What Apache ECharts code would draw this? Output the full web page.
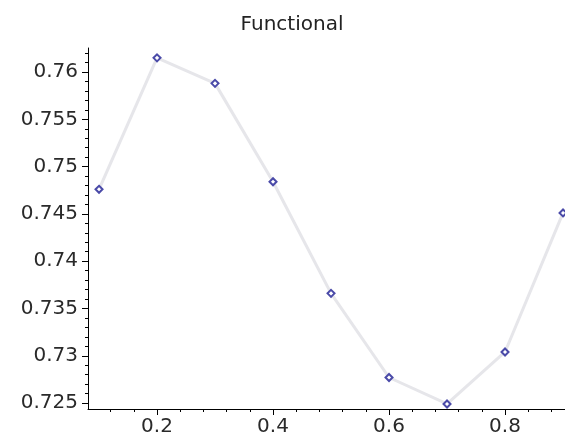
<!DOCTYPE html>
<html>
<head>
<meta charset="utf-8">
<script src="https://cdn.jsdelivr.net/npm/echarts@6/dist/echarts.min.js"></script>
<style>
html,body{margin:0;padding:0;background:#fff;}
#chart{width:565px;height:441px;}
</style>
</head>
<body>
<div id="chart"></div>
<script>
var titleText = "Functional";
var xValues = [0.1, 0.2, 0.3, 0.4, 0.5, 0.6, 0.7, 0.8, 0.9];
var yValues = [0.7476, 0.7615, 0.7588, 0.7484, 0.7366, 0.7277, 0.7249, 0.7304, 0.7451];
var xTickValues = [0.2, 0.4, 0.6, 0.8];
var xMinorTickValues = [0.12, 0.16, 0.24, 0.28, 0.32, 0.36, 0.44, 0.48, 0.52, 0.56, 0.64, 0.68, 0.72, 0.76, 0.84, 0.88];
var yTickValues = [0.725, 0.73, 0.735, 0.74, 0.745, 0.75, 0.755, 0.76];
var yMinorTickValues = [0.726, 0.727, 0.728, 0.729, 0.731, 0.732, 0.733, 0.734, 0.736, 0.737, 0.738, 0.739, 0.741, 0.742, 0.743, 0.744, 0.746, 0.747, 0.748, 0.749, 0.751, 0.752, 0.753, 0.754, 0.756, 0.757, 0.758, 0.759, 0.761, 0.762];

var xMin = 0.081, xMax = 0.9034;
var yMin = 0.72437, yMax = 0.76254;

var points = xValues.map(function (x, i) { return [x, yValues[i]]; });
var fontFam = "'DejaVu Sans', sans-serif";
function fmt(v) { return String(+(+v).toFixed(3)); }

var chart = echarts.init(document.getElementById('chart'), null, {renderer: 'canvas'});
chart.setOption({
  animation: false,
  backgroundColor: '#ffffff',
  title: {
    text: titleText,
    left: 287, top: 10, textAlign: 'center',
    textStyle: {fontFamily: fontFam, fontSize: 20, fontWeight: 'normal', color: '#222'}
  },
  grid: {left: 88, right: 0, top: 48, bottom: 32, containLabel: false},
  xAxis: [{
    type: 'value', min: xMin, max: xMax,
    axisLine: {show: true, onZero: false, lineStyle: {color: '#000', width: 1}},
    axisTick: {show: true, customValues: xTickValues, inside: false, length: 6, lineStyle: {color: '#000'}},
    axisLabel: {show: true, customValues: xTickValues, formatter: fmt, margin: 8,
      fontFamily: fontFam, fontSize: 20, color: '#2a2a2a'},
    splitLine: {show: false}
  }, {
    type: 'value', min: xMin, max: xMax, position: 'bottom',
    axisLine: {show: false, onZero: false},
    axisTick: {show: true, customValues: xMinorTickValues, length: 3, lineStyle: {color: '#000'}},
    axisLabel: {show: false},
    splitLine: {show: false}
  }],
  yAxis: [{
    type: 'value', min: yMin, max: yMax,
    axisLine: {show: true, onZero: false, lineStyle: {color: '#000', width: 1}},
    axisTick: {show: true, customValues: yTickValues, length: 6, lineStyle: {color: '#000'}},
    axisLabel: {show: true, customValues: yTickValues, formatter: fmt, margin: 10,
      fontFamily: fontFam, fontSize: 20, color: '#2a2a2a'},
    splitLine: {show: false}
  }, {
    type: 'value', min: yMin, max: yMax, position: 'left',
    axisLine: {show: false, onZero: false},
    axisTick: {show: true, customValues: yMinorTickValues, length: 3, lineStyle: {color: '#000'}},
    axisLabel: {show: false},
    splitLine: {show: false}
  }],
  series: [{
    type: 'line',
    xAxisIndex: 0, yAxisIndex: 0,
    data: points,
    symbol: 'emptyDiamond',
    symbolSize: 7,
    itemStyle: {color: '#4a4aa8', borderColor: '#4a4aa8', borderWidth: 1.2},
    lineStyle: {color: '#e6e6ea', width: 3},
    clip: false
  }]
});
</script>
</body>
</html>
